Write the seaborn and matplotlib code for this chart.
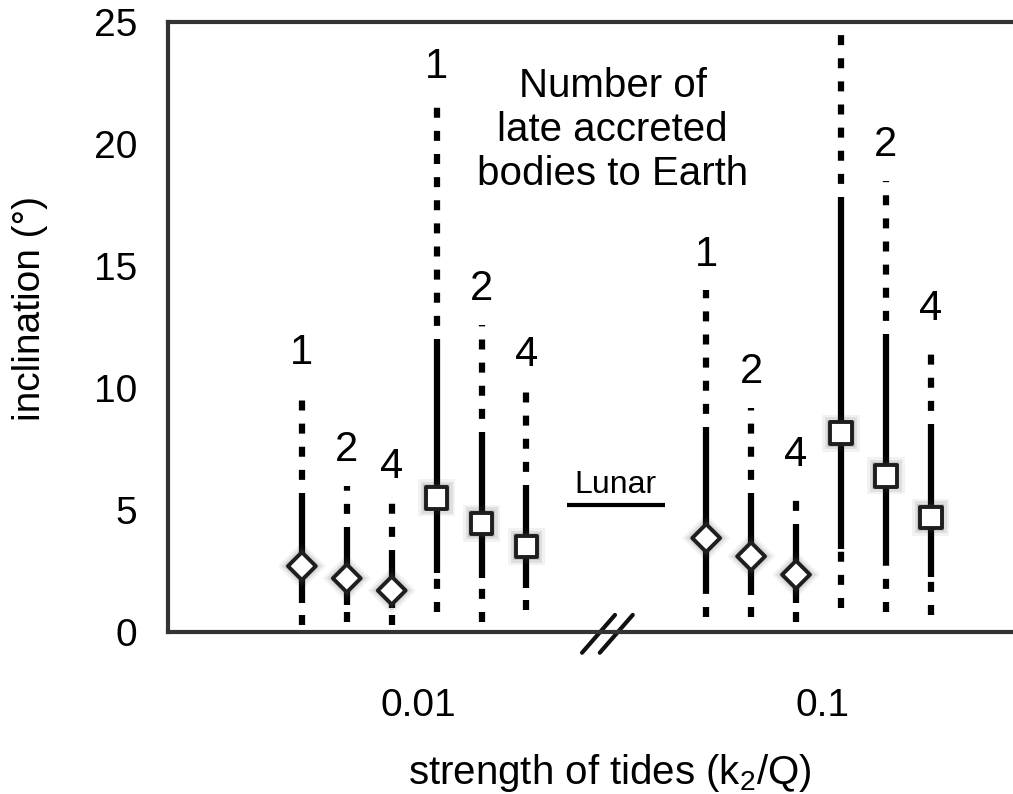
import numpy as np
import pandas as pd
import matplotlib.pyplot as plt
import seaborn as sns

# values (inclination in degrees)
tide_strength = ['0.01'] * 6 + ['0.1'] * 6
n_bodies = [1, 2, 4] * 4
setup = (['diamond'] * 3 + ['square'] * 3) * 2
incl_min = [0.3, 0.4, 0.3, 0.8, 0.4, 0.9, 0.6, 0.6, 0.4, 1.0, 0.8, 0.7]
incl_q1 = [1.2, 1.1, 1.0, 2.4, 2.2, 1.8, 1.7, 1.5, 1.2, 3.4, 3.0, 2.25]
incl_med = [2.7, 2.2, 1.7, 5.5, 4.45, 3.5, 3.85, 3.1, 2.35, 8.15, 6.4, 4.7]
incl_q3 = [5.3, 3.9, 2.95, 11.6, 7.8, 5.6, 8.0, 5.3, 4.0, 17.4, 11.8, 8.1]
incl_max = [10.0, 6.0, 5.3, 21.7, 12.6, 9.9, 14.0, 9.2, 5.8, 24.7, 18.5, 11.8]
tick_labels = ['0.01', '0.1']
lunar_incl = 5.2

df = pd.DataFrame({
    'tides': tide_strength,
    'bodies': n_bodies,
    'setup': setup,
    'lo': incl_min,
    'q1': incl_q1,
    'med': incl_med,
    'q3': incl_q3,
    'hi': incl_max,
})
# gap of three slots between the two tide groups
df['pos'] = np.arange(len(df)) + np.where(df.tides == '0.1', 3, 0)

sns.set_style('white')
plt.rcParams['font.family'] = ['Liberation Sans', 'DejaVu Sans']
for k in ['text.color', 'axes.labelcolor', 'xtick.color', 'ytick.color']:
    plt.rcParams[k] = 'black'

fig = plt.figure(figsize=(10.13, 7.94), dpi=100)
ax = fig.add_axes([168 / 1013, 1 - 632 / 794, 1 - 168 / 1013, 610 / 794])

dash = (0, (1.6, 2.1))
ax.vlines(df.pos, df.q3, df.hi, colors='black', lw=4.5, linestyles=dash)
ax.vlines(df.pos, df.lo, df.q1, colors='black', lw=4.5, linestyles=dash)
ax.vlines(df.pos, df.q1, df.q3, colors='black', lw=4.5)

mk = {'diamond': 'D', 'square': 's'}
sz = {'diamond': 200, 'square': 240}
# soft glow behind the markers
for scale, alpha in [(3.0, 0.07), (2.2, 0.11), (1.6, 0.16)]:
    sns.scatterplot(data=df, x='pos', y='med', style='setup', markers=mk,
                    size='setup', sizes={k: v * scale for k, v in sz.items()},
                    color='0.3', alpha=alpha, linewidth=0, legend=False, ax=ax, zorder=4)
sns.scatterplot(data=df, x='pos', y='med', style='setup', markers=mk,
                size='setup', sizes=sz,
                color='white', edgecolor='#1e1e1e', linewidth=2.8,
                legend=False, ax=ax, zorder=5)

for _, r in df.iterrows():
    y = r.hi + 1.45
    if y < 24.8:
        ax.text(r.pos, y, str(r.bodies), ha='center', va='center', fontsize=30)

ax.text(6.92, 20.57, 'Number of\nlate accreted\nbodies to Earth',
        ha='center', va='center', fontsize=29, linespacing=1.2)

ax.hlines(lunar_incl, 5.9, 8.08, color='black', lw=3)
ax.text(6.99, lunar_incl + 0.5, 'Lunar', ha='center', va='baseline', fontsize=23)

# axis break marks
for x0 in [0.490, 0.511]:
    ax.plot([x0, x0 + 0.039], [-0.034, 0.028], transform=ax.transAxes,
            clip_on=False, color='#111111', lw=3)

ax.set_xlim(-2.98, 15.83)
ax.set_ylim(0, 25)
ax.set_yticks(range(0, 26, 5))
centers = df.groupby('tides', sort=False).pos.mean().values + 0.1
ax.set_xticks(centers, tick_labels)

for s in ['left', 'bottom', 'top']:
    ax.spines[s].set_linewidth(3)
    ax.spines[s].set_color('#333333')
ax.spines['right'].set_visible(False)

ax.tick_params(axis='y', direction='in', length=8, width=2, color='#333333',
               labelsize=28, pad=22)
ax.tick_params(axis='x', length=0, labelsize=28, pad=40)

ax.set_ylabel('inclination (°)', fontsize=28)
ax.set_xlabel('strength of tides ($\\mathregular{k_2}$/Q)', fontsize=29, va='top')
ax.yaxis.set_label_coords(-0.142, 0.53)
ax.xaxis.set_label_coords(0.523, -0.197)

fig.savefig('out.png', dpi=100)
